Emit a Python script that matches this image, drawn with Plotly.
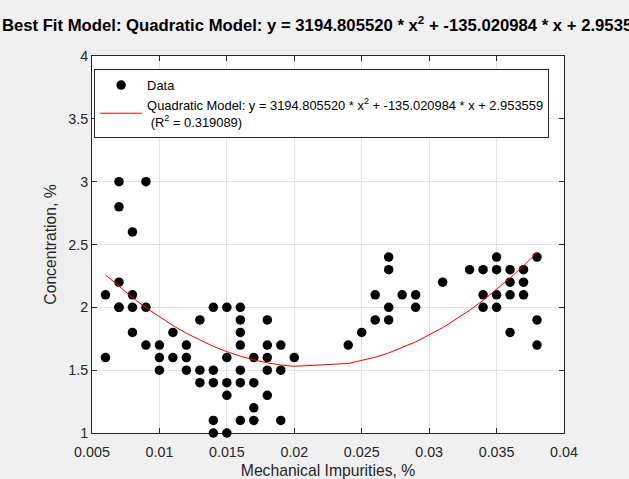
import plotly.graph_objects as go

# ---- data ----
impurities = [0.006, 0.006, 0.007, 0.007, 0.007, 0.007, 0.007, 0.008, 0.008, 0.008, 0.008,
              0.009, 0.009, 0.009, 0.010, 0.010, 0.010, 0.011, 0.011, 0.012, 0.012, 0.012,
              0.013, 0.013, 0.013, 0.014, 0.014, 0.014, 0.014, 0.014, 0.015, 0.015, 0.015,
              0.015, 0.015, 0.016, 0.016, 0.016, 0.016, 0.016, 0.016, 0.016, 0.017, 0.017,
              0.017, 0.017, 0.018, 0.018, 0.018, 0.018, 0.018, 0.019, 0.019, 0.019, 0.020,
              0.024, 0.025, 0.026, 0.026, 0.027, 0.027, 0.027, 0.027, 0.028, 0.029, 0.029,
              0.031, 0.033, 0.034, 0.034, 0.034, 0.035, 0.035, 0.035, 0.035, 0.036, 0.036,
              0.036, 0.036, 0.037, 0.037, 0.037, 0.038, 0.038, 0.038]
concentration = [2.1, 1.6, 3.0, 2.8, 2.2, 2.0, 2.0, 2.6, 2.1, 2.0, 1.8,
                 3.0, 2.0, 1.7, 1.7, 1.6, 1.5, 1.8, 1.6, 1.7, 1.6, 1.5,
                 1.9, 1.5, 1.4, 2.0, 1.5, 1.4, 1.1, 1.0, 2.0, 1.6, 1.4,
                 1.3, 1.0, 2.0, 1.9, 1.8, 1.7, 1.5, 1.4, 1.1, 1.6, 1.4,
                 1.2, 1.1, 1.9, 1.7, 1.6, 1.5, 1.3, 1.7, 1.5, 1.1, 1.6,
                 1.7, 1.8, 2.1, 1.9, 2.4, 2.3, 1.9, 2.0, 2.1, 2.1, 2.0,
                 2.2, 2.3, 2.3, 2.1, 2.0, 2.4, 2.3, 2.1, 2.0, 2.3, 2.2,
                 2.1, 1.8, 2.3, 2.2, 2.1, 2.4, 1.9, 1.7]

fit_x = [0.006, 0.007, 0.008, 0.009, 0.010, 0.011, 0.012, 0.013, 0.014, 0.015,
         0.016, 0.017, 0.018, 0.019, 0.020, 0.024, 0.025, 0.026, 0.027, 0.028,
         0.029, 0.031, 0.033, 0.034, 0.035, 0.036, 0.037, 0.038]
fit_y = [2.258, 2.165, 2.078, 1.997, 1.923, 1.855, 1.793, 1.738, 1.689, 1.647,
         1.611, 1.582, 1.558, 1.541, 1.531, 1.553, 1.575, 1.603, 1.637, 1.678,
         1.725, 1.838, 1.977, 2.056, 2.141, 2.233, 2.331, 2.436]

x_ticks = [0.005, 0.01, 0.015, 0.02, 0.025, 0.03, 0.035, 0.04]
x_ticklabels = ["0.005", "0.01", "0.015", "0.02", "0.025", "0.03", "0.035", "0.04"]
y_ticks = [1, 1.5, 2, 2.5, 3, 3.5, 4]
y_ticklabels = ["1", "1.5", "2", "2.5", "3", "3.5", "4"]

title_text = ("Best Fit Model: Quadratic Model: y = 3194.805520 * x<sup>2</sup> + "
              "-135.020984 * x + 2.953559 (R<sup>2</sup> = 0.319089)")
fit_name = ("Quadratic Model: y = 3194.805520 * x<sup>2</sup> + -135.020984 * x + 2.953559"
            "<br> (R<sup>2</sup> = 0.319089)")

FONT = "Liberation Sans, Arial, Helvetica, sans-serif"
AX = "#262626"

fig = go.Figure()
fig.add_trace(go.Scatter(
    x=impurities, y=concentration, mode="markers", name="Data",
    marker=dict(color="black", size=9.5, line=dict(width=0)),
    cliponaxis=False,
))
fig.add_trace(go.Scatter(
    x=fit_x, y=fit_y, mode="lines", name=fit_name,
    line=dict(color="#ff0000", width=1),
))

axis_common = dict(
    showline=True, linecolor=AX, linewidth=1, mirror="ticks",
    ticks="inside", ticklen=5, tickcolor=AX, tickwidth=1,
    showgrid=True, gridcolor="#e3e3e3", gridwidth=1,
    zeroline=False, layer="below traces",
    tickfont=dict(family=FONT, size=14.3, color=AX),
)

fig.update_layout(
    width=629, height=479,
    margin=dict(l=92, r=65, t=56, b=46, autoexpand=False),
    paper_bgcolor="#f0f0f0", plot_bgcolor="white",
    font=dict(family=FONT, color=AX),
    title=dict(text=title_text, x=0.003, xref="container", xanchor="left",
               y=0.948, yref="container", yanchor="middle",
               font=dict(family=FONT, size=16.7, color="black", weight="bold")),
    xaxis=dict(range=[0.005, 0.04], tickvals=x_ticks, ticktext=x_ticklabels,
               ticklabelstandoff=6,
               title=dict(text="Mechanical Impurities, %", standoff=7,
                          font=dict(family=FONT, size=15.7, color=AX)),
               automargin=False, **axis_common),
    yaxis=dict(range=[1, 4], tickvals=y_ticks, ticktext=y_ticklabels,
               title=dict(text="Concentration, %", standoff=7,
                          font=dict(family=FONT, size=15.7, color=AX)),
               automargin=False, **axis_common),
    legend=dict(x=0.0045, y=0.965, xanchor="left", yanchor="top",
                bgcolor="white", bordercolor=AX, borderwidth=1,
                font=dict(family=FONT, size=12.9, color="black"),
                itemwidth=42, tracegroupgap=0, valign="middle"),
    showlegend=True,
)

fig.write_html("out.html")
